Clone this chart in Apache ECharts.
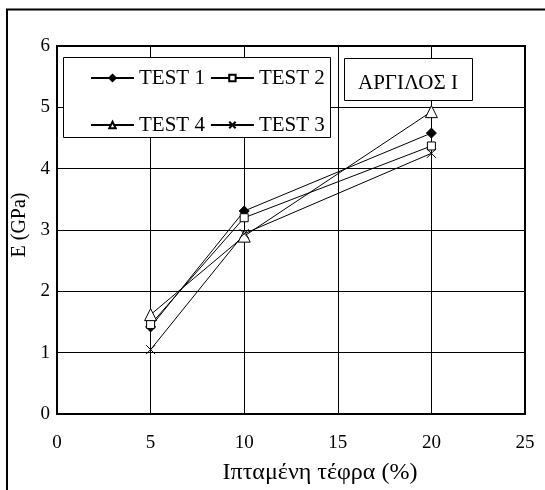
<!DOCTYPE html>
<html>
<head>
<meta charset="utf-8">
<script src="https://cdn.jsdelivr.net/npm/echarts@6/dist/echarts.min.js"></script>
<style>
  html, body { margin: 0; padding: 0; background: #fff; }
  #chart { width: 545px; height: 490px; }
</style>
</head>
<body>
<div id="chart"></div>
<script>
// Fly-ash content (%) and elastic modulus E (GPa) per test
const ashContent = [5, 10, 20];
const test1 = [1.42, 3.31, 4.58];
const test2 = [1.46, 3.20, 4.37];
const test4 = [1.62, 2.90, 4.93];
const test3 = [1.05, 2.94, 4.25];

const xTicks = [0, 5, 10, 15, 20, 25];
const yTicks = [0, 1, 2, 3, 4, 5, 6];

const FONT = '"Liberation Serif", "Times New Roman", serif';
const crossPath = 'path://M0,0L10,10M10,0L0,10';

function pairs(ys) { return ashContent.map((x, i) => [x, ys[i]]); }

function lineSeries(name, ys, symbol, size, fill) {
  return {
    name: name,
    type: 'line',
    data: pairs(ys),
    symbol: symbol,
    symbolSize: size,
    showAllSymbol: true,
    lineStyle: { color: '#000', width: 1 },
    itemStyle: { color: fill, borderColor: '#000', borderWidth: 1 },
    emphasis: { disabled: true },
    z: 3
  };
}

// two single-row legends sharing one framed box
function legendRow(names, top) {
  return {
    data: names,
    left: 90, top: top,
    itemWidth: 43, itemHeight: 8, itemGap: 5,
    padding: 0,
    z: 20,
    textStyle: { fontFamily: FONT, fontSize: 21, lineHeight: 22, color: '#000' },
    selectedMode: false
  };
}

const chart = echarts.init(document.getElementById('chart'), null, { renderer: 'canvas' });

chart.setOption({
  animation: false,
  backgroundColor: '#fff',
  grid: {
    left: 57, top: 46, right: 20, bottom: 69,
    show: true, borderColor: '#000', borderWidth: 2, backgroundColor: 'transparent'
  },
  xAxis: {
    type: 'value',
    min: xTicks[0], max: xTicks[xTicks.length - 1], interval: 5,
    name: 'Ιπταμένη τέφρα (%)',
    nameLocation: 'middle', nameGap: 47,
    nameTextStyle: { fontFamily: FONT, fontSize: 24, color: '#000', padding: [0, 0, 0, 58] },
    axisLine: { show: true, lineStyle: { color: '#000', width: 2 } },
    axisTick: { show: false },
    axisLabel: { fontFamily: FONT, fontSize: 19, color: '#000', margin: 20 },
    splitLine: { show: true, lineStyle: { color: '#000', width: 1 } }
  },
  yAxis: {
    type: 'value',
    min: yTicks[0], max: yTicks[yTicks.length - 1], interval: 1,
    name: 'E (GPa)',
    nameLocation: 'middle', nameGap: 20,
    nameTextStyle: { fontFamily: FONT, fontSize: 20, color: '#000', padding: [0, 0, 0, 10] },
    axisLine: { show: true, lineStyle: { color: '#000', width: 2 } },
    axisTick: { show: false },
    axisLabel: { fontFamily: FONT, fontSize: 19, color: '#000', margin: 7 },
    splitLine: { show: true, lineStyle: { color: '#000', width: 1 } }
  },
  legend: [
    legendRow(['TEST 1', 'TEST 2'], 67),
    legendRow(['TEST 4', 'TEST 3'], 114)
  ],
  graphic: [
    {
      type: 'rect', z: 1,
      shape: { x: 7, y: 9.5, width: 560, height: 500 },
      style: { fill: 'none', stroke: '#000', lineWidth: 2 }
    },
    {
      type: 'rect', z: 5,
      shape: { x: 63.5, y: 57.5, width: 267, height: 80 },
      style: { fill: '#fff', stroke: '#000', lineWidth: 1 }
    },
    {
      type: 'rect', z: 5,
      shape: { x: 344.5, y: 58.5, width: 128, height: 42 },
      style: { fill: '#fff', stroke: '#000', lineWidth: 1 }
    },
    {
      type: 'text', z: 6,
      x: 408, y: 83,
      style: { text: 'ΑΡΓΙΛΟΣ Ι', font: '21px ' + FONT, fill: '#000', align: 'center', verticalAlign: 'middle' }
    }
  ],
  series: [
    lineSeries('TEST 1', test1, 'diamond', 10, '#000'),
    lineSeries('TEST 2', test2, 'rect', 8, '#fff'),
    lineSeries('TEST 4', test4, 'triangle', 12, '#fff'),
    lineSeries('TEST 3', test3, crossPath, 9, '#000')
  ]
});
</script>
</body>
</html>
